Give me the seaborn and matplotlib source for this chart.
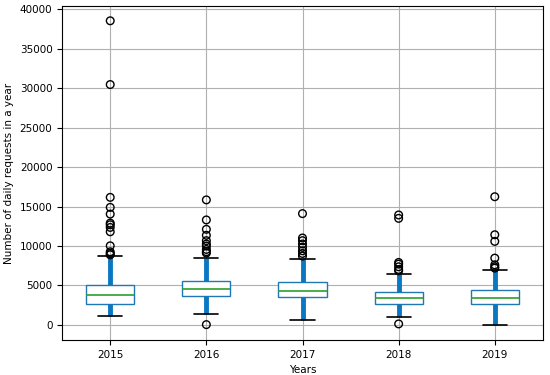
import pandas as pd
import matplotlib
matplotlib.use("Agg")
import matplotlib.pyplot as plt
import seaborn as sns

# values (daily requests per year)
years = ["2015", "2016", "2017", "2018", "2019"]
q1 = [2710, 3690, 3560, 2710, 2620]
median = [3770, 4530, 4320, 3430, 3470]
q3 = [5040, 5630, 5500, 4190, 4410]
whisker_low = [1140, 1440, 670, 1060, 0]
whisker_high = [8680, 8510, 8350, 6440, 6940]

outliers_2015 = [38550, 30470, 16170, 14900, 14050, 12910, 12700, 12360, 11810, 10030, 9270, 9050, 8890]
outliers_2016 = [15850, 13310, 12120, 11360, 10680, 10250, 10000, 9570, 9280, 9110, 40]
outliers_2017 = [14110, 11020, 10680, 10260, 9830, 9400, 9060, 8730]
outliers_2018 = [13940, 13510, 7920, 7710, 7370, 7030, 6860, 130]
outliers_2019 = [16250, 11430, 10590, 8470, 7620, 7370, 7200]
outliers = [outliers_2015, outliers_2016, outliers_2017, outliers_2018, outliers_2019]

# long-form table whose quartiles / extremes equal the values above
rows = []
for i, yr in enumerate(years):
    core = [whisker_low[i]] + [q1[i]] * 100 + [median[i]] * 100 + [q3[i]] * 100 + [whisker_high[i]]
    rows += [(yr, v) for v in core]
box_df = pd.DataFrame(rows, columns=["Years", "requests"])
out_df = pd.DataFrame([(yr, v) for yr, vals in zip(years, outliers) for v in vals],
                      columns=["Years", "requests"])

sns.set_theme(style="ticks")
plt.rcParams["font.family"] = ["DejaVu Sans"]
plt.rcParams.update({
    "axes.grid": True,
    "grid.color": "#b0b0b0",
    "grid.linewidth": 0.8,
    "axes.edgecolor": "black",
    "axes.linewidth": 0.8,
    "text.color": "black",
    "axes.labelcolor": "black",
    "xtick.color": "black",
    "ytick.color": "black",
})

fig, ax = plt.subplots(figsize=(5.5, 3.75), dpi=100)
fig.subplots_adjust(left=0.113, right=0.987, top=0.984, bottom=0.093)

sns.boxplot(data=box_df, x="Years", y="requests", order=years, ax=ax,
            whis=(0, 100), width=0.5, color="white", linecolor="#1f77b4",
            boxprops=dict(edgecolor="#1f77b4", linewidth=1.0),
            whiskerprops=dict(color="#0a77c2", linewidth=3.5),
            capprops=dict(color="black", linewidth=1.2),
            medianprops=dict(color="#2ca02c", linewidth=1.2))

n_before = len(ax.collections)
sns.stripplot(data=out_df, x="Years", y="requests", order=years, ax=ax,
              jitter=False, size=5.5, color="black", linewidth=1.0,
              edgecolor="black", zorder=4)
for coll in ax.collections[n_before:]:
    coll.set_facecolor("none")

ax.set_xlim(-0.5, 4.5)
ax.set_ylim(-1925, 40425)
ax.set_yticks(range(0, 40001, 5000))
ax.grid(True, axis="both", color="#b0b0b0", linewidth=0.8)
ax.set_axisbelow(True)
ax.set_xlabel("Years", fontsize=7.5)
ax.set_ylabel("Number of daily requests in a year", fontsize=7.5)
ax.tick_params(labelsize=7.5, length=3.5, width=0.8, color="black", labelcolor="black")
for s in ax.spines.values():
    s.set_visible(True)
    s.set_color("black")

fig.savefig("out.png", dpi=100)
